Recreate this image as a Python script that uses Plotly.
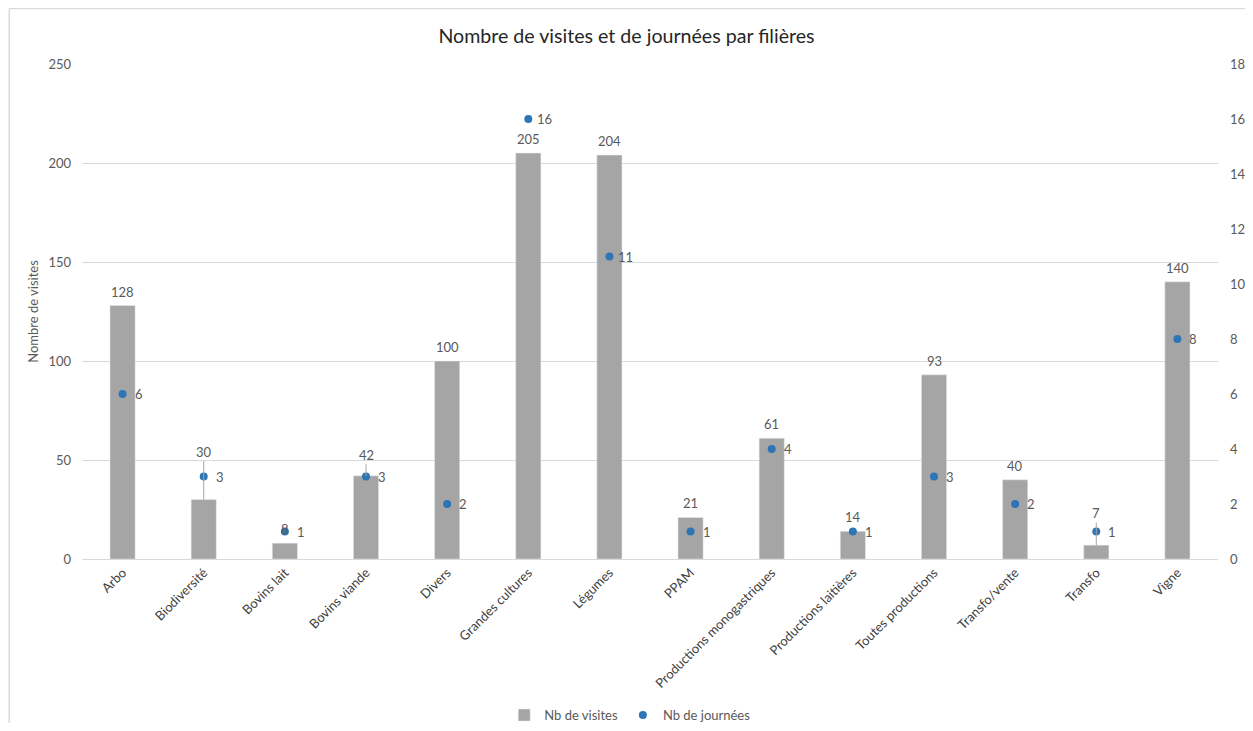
import plotly.graph_objects as go

categories = ["Arbo", "Biodiversité", "Bovins lait", "Bovins viande", "Divers",
              "Grandes cultures", "Légumes", "PPAM", "Productions monogastriques",
              "Productions laitières", "Toutes productions", "Transfo/vente",
              "Transfo", "Vigne"]
visites = [128, 30, 8, 42, 100, 205, 204, 21, 61, 14, 93, 40, 7, 140]
journees = [6, 3, 1, 3, 2, 16, 11, 1, 4, 1, 3, 2, 1, 8]

# label offsets (px above bar top) for bar value labels; leader lines where needed
label_offset = {"Biodiversité": 48, "Bovins viande": 21, "Transfo": 32}
FONT = "Lato"
GREY_TXT = "#595959"
FS = 13

fig = go.Figure()
fig.add_trace(go.Bar(x=categories, y=visites, name="Nb de visites",
                     marker=dict(color="#A5A5A5"), yaxis="y"))
fig.add_trace(go.Scatter(x=categories, y=journees, name="Nb de journées",
                         mode="markers", marker=dict(color="#2E75B6", size=8),
                         yaxis="y2"))

ann = []
for c, v in zip(categories, visites):
    if c in label_offset:
        ann.append(dict(x=c, y=v, xref="x", yref="y", text=str(v), showarrow=True,
                        arrowhead=0, arrowwidth=1, arrowcolor="#A6A6A6", ax=0,
                        ay=-label_offset[c], standoff=0,
                        font=dict(family=FONT, size=FS, color=GREY_TXT)))
    else:
        ann.append(dict(x=c, y=v, xref="x", yref="y", text=str(v), showarrow=False,
                        yshift=14, font=dict(family=FONT, size=FS, color=GREY_TXT)))
for c, j in zip(categories, journees):
    ann.append(dict(x=c, y=j, xref="x", yref="y2", text=str(j), showarrow=False,
                    xshift=16, font=dict(family=FONT, size=FS, color=GREY_TXT)))

fig.update_layout(
    width=1237, height=715,
    margin=dict(l=74, r=27, t=56, b=164, autoexpand=False),
    paper_bgcolor="white", plot_bgcolor="white",
    font=dict(family=FONT, size=FS, color=GREY_TXT),
    title=dict(text="Nombre de visites et de journées par filières",
               x=0.5, xanchor="center", y=0.961, yanchor="middle",
               font=dict(family=FONT, size=19.6, color="#262626")),
    bargap=0.69,
    xaxis=dict(tickangle=-45, showgrid=False, showline=True, linecolor="#D9D9D9",
               tickfont=dict(family=FONT, size=FS, color="#404040"), ticks="",
               automargin=False, range=[-0.5, len(categories) - 0.5]),
    yaxis=dict(range=[0, 250], dtick=50, gridcolor="#D9D9D9", zeroline=False,
               showline=False, ticks="", ticklen=0, automargin=False,
               ticklabelstandoff=10,
               title=dict(text="Nombre de visites", standoff=6,
                          font=dict(family=FONT, size=FS, color=GREY_TXT)),
               tickfont=dict(family=FONT, size=FS, color=GREY_TXT)),
    yaxis2=dict(range=[0, 18], dtick=2, overlaying="y", side="right",
                showgrid=False, zeroline=False, showline=False, automargin=False,
                ticklabelstandoff=11,
                tickfont=dict(family=FONT, size=FS, color=GREY_TXT)),
    legend=dict(orientation="h", x=0.503, xanchor="center", xref="container",
                y=0.011, yref="container", yanchor="middle",
                font=dict(family=FONT, size=FS, color=GREY_TXT)),
    annotations=ann,
    shapes=[dict(type="line", xref="paper", yref="paper", x0=-0.064, x1=1.1,
                 y0=1.112, y1=1.112, line=dict(color="#D9D9D9", width=1.5)),
            dict(type="line", xref="paper", yref="paper", x0=-0.064, x1=-0.064,
                 y0=1.112, y1=-0.5, line=dict(color="#D9D9D9", width=1.5))],
)
fig.write_html("out.html")
